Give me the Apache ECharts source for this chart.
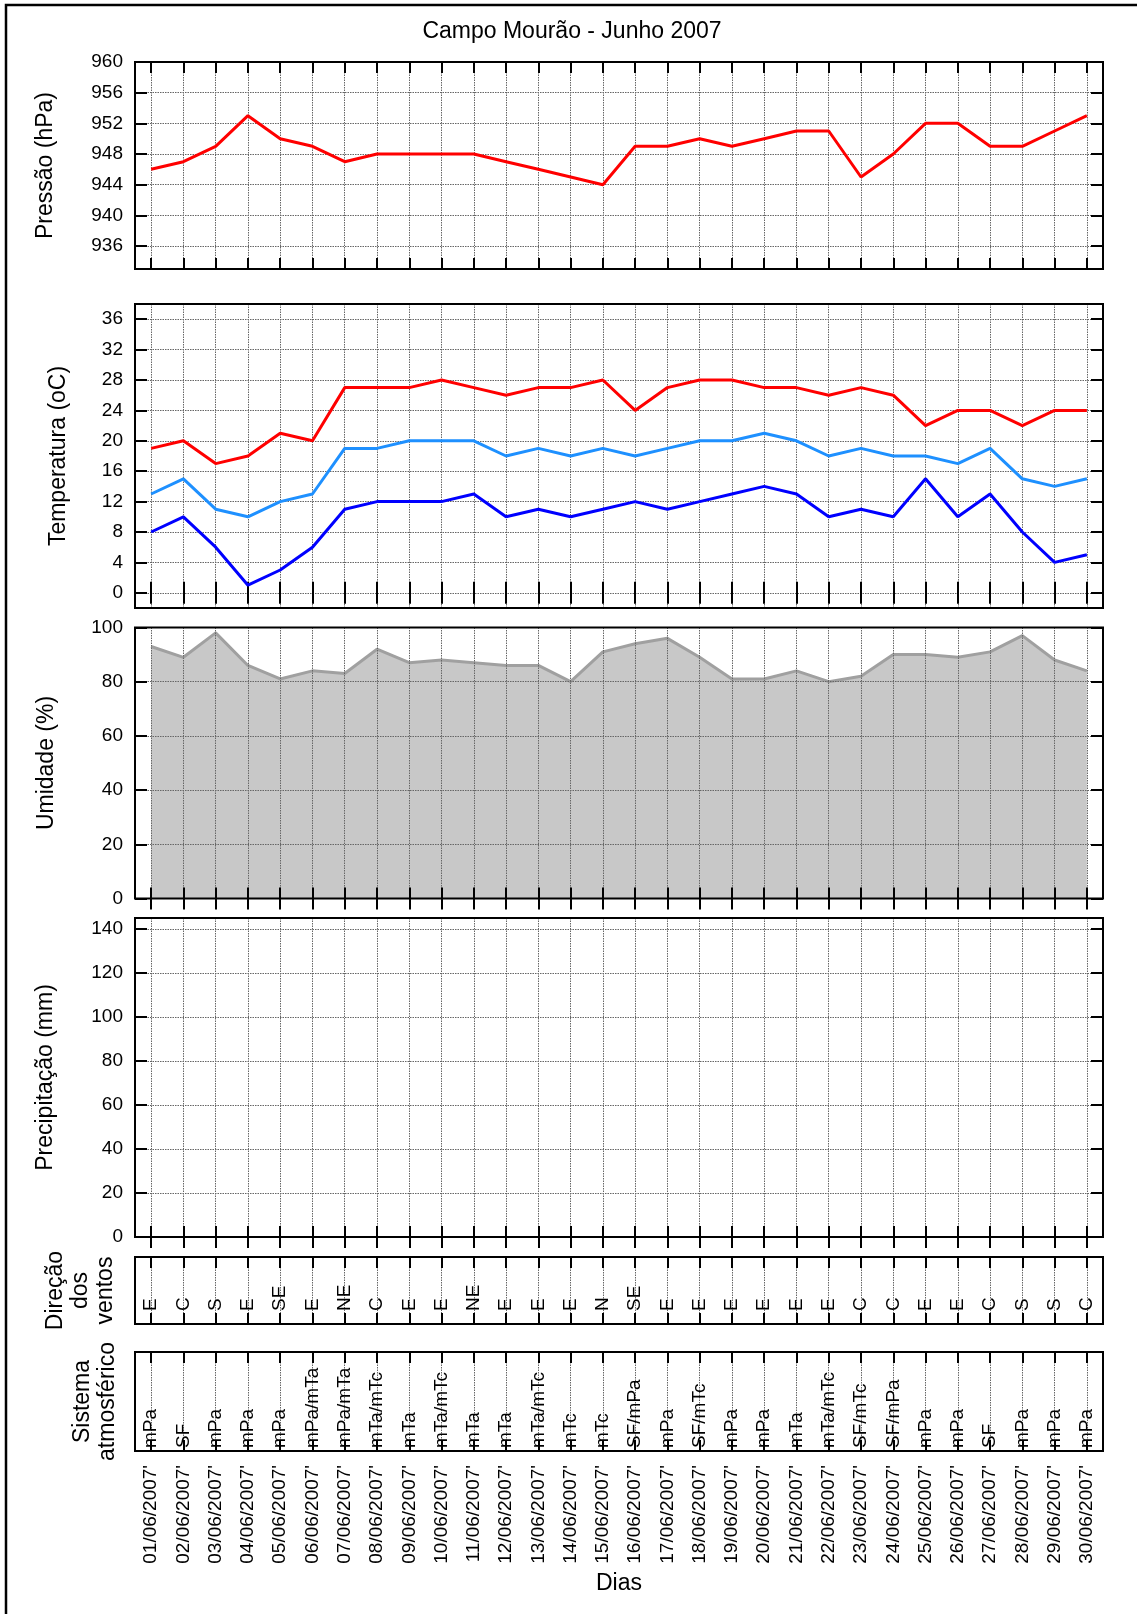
<!DOCTYPE html>
<html>
<head>
<meta charset="utf-8">
<title>Campo Mourão - Junho 2007</title>
<script src="https://cdn.jsdelivr.net/npm/echarts@6/dist/echarts.min.js"></script>
<style>
  html, body { margin: 0; padding: 0; background: #fff; }
  #chart { width: 1137px; height: 1614px; }
</style>
</head>
<body>
<div id="chart"></div>
<script>
// ---- Daily data, June 2007 ----
const days = [
  "01/06/2007'", "02/06/2007'", "03/06/2007'", "04/06/2007'", "05/06/2007'",
  "06/06/2007'", "07/06/2007'", "08/06/2007'", "09/06/2007'", "10/06/2007'",
  "11/06/2007'", "12/06/2007'", "13/06/2007'", "14/06/2007'", "15/06/2007'",
  "16/06/2007'", "17/06/2007'", "18/06/2007'", "19/06/2007'", "20/06/2007'",
  "21/06/2007'", "22/06/2007'", "23/06/2007'", "24/06/2007'", "25/06/2007'",
  "26/06/2007'", "27/06/2007'", "28/06/2007'", "29/06/2007'", "30/06/2007'"
];

const pressure = [946, 947, 949, 953, 950, 949, 947, 948, 948, 948,
                  948, 947, 946, 945, 944, 949, 949, 950, 949, 950,
                  951, 951, 945, 948, 952, 952, 949, 949, 951, 953];

const tempMax  = [19, 20, 17, 18, 21, 20, 27, 27, 27, 28,
                  27, 26, 27, 27, 28, 24, 27, 28, 28, 27,
                  27, 26, 27, 26, 22, 24, 24, 22, 24, 24];
const tempMean = [13, 15, 11, 10, 12, 13, 19, 19, 20, 20,
                  20, 18, 19, 18, 19, 18, 19, 20, 20, 21,
                  20, 18, 19, 18, 18, 17, 19, 15, 14, 15];
const tempMin  = [8, 10, 6, 1, 3, 6, 11, 12, 12, 12,
                  13, 10, 11, 10, 11, 12, 11, 12, 13, 14,
                  13, 10, 11, 10, 15, 10, 13, 8, 4, 5];

const humidity = [93, 89, 98, 86, 81, 84, 83, 92, 87, 88,
                  87, 86, 86, 80, 91, 94, 96, 89, 81, 81,
                  84, 80, 82, 90, 90, 89, 91, 97, 88, 84];

const precipitation = [0, 0, 0, 0, 0, 0, 0, 0, 0, 0,
                       0, 0, 0, 0, 0, 0, 0, 0, 0, 0,
                       0, 0, 0, 0, 0, 0, 0, 0, 0, 0];

const windDir = ['E', 'C', 'S', 'E', 'SE', 'E', 'NE', 'C', 'E', 'E',
                 'NE', 'E', 'E', 'E', 'N', 'SE', 'E', 'E', 'E', 'E',
                 'E', 'E', 'C', 'C', 'E', 'E', 'C', 'S', 'S', 'C'];

const systems = ['mPa', 'SF', 'mPa', 'mPa', 'mPa', 'mPa/mTa', 'mPa/mTa', 'mTa/mTc', 'mTa', 'mTa/mTc',
                 'mTa', 'mTa', 'mTa/mTc', 'mTc', 'mTc', 'SF/mPa', 'mPa', 'SF/mTc', 'mPa', 'mPa',
                 'mTa', 'mTa/mTc', 'SF/mTc', 'SF/mPa', 'mPa', 'mPa', 'SF', 'mPa', 'mPa', 'mPa'];

// ---- Axis ticks ----
const pressureTicks = [936, 940, 944, 948, 952, 956, 960];
const tempTicks     = [0, 4, 8, 12, 16, 20, 24, 28, 32, 36];
const humidityTicks = [0, 20, 40, 60, 80, 100];
const precipTicks   = [0, 20, 40, 60, 80, 100, 120, 140];

// ---- Layout / styling ----
const FONT = "'Liberation Sans', Arial, Helvetica, sans-serif";
const LEFT = 135;
const WIDTH = 968;
const tickStyle = { color: '#000', width: 2 };
const gridLineStyle = { color: '#666666', width: 1, type: [1.5, 1] };

const grids = [];
const xAxes = [];
const yAxes = [];
const series = [];

function catTick() {
  return { show: true, inside: true, length: 11, alignWithLabel: true, interval: 0, lineStyle: tickStyle };
}

// One stacked panel: a bordered grid with inward ticks on all four sides
function addPanel(cfg) {
  const g = grids.length;
  const z = cfg.z || 0;
  grids.push({
    left: LEFT, width: WIDTH, top: cfg.top, height: cfg.height,
    show: true, borderColor: '#000', borderWidth: 2,
    backgroundColor: 'transparent', z: 5
  });

  const xb = xAxes.length;
  xAxes.push({
    type: 'category', gridIndex: g, position: 'bottom', data: days, z: z,
    axisLine: { show: false },
    axisTick: catTick(),
    splitLine: { show: true, alignWithLabel: true, interval: 0, lineStyle: gridLineStyle },
    axisLabel: cfg.bottomLabel || { show: false }
  });
  xAxes.push({
    type: 'category', gridIndex: g, position: 'top', data: days, z: z,
    axisLine: { show: false },
    axisTick: catTick(),
    splitLine: { show: false },
    axisLabel: { show: false }
  });
  if (cfg.innerLabel) {
    xAxes.push({
      type: 'category', gridIndex: g, position: 'bottom', data: days, z: z,
      axisLine: { show: false },
      axisTick: { show: false },
      splitLine: { show: false },
      axisLabel: cfg.innerLabel
    });
  }

  const yl = yAxes.length;
  if (cfg.ticks) {
    yAxes.push({
      type: 'value', gridIndex: g, position: 'left', min: cfg.min, max: cfg.max, z: z,
      axisLine: { show: false },
      axisTick: { show: true, inside: true, length: 12, customValues: cfg.ticks, lineStyle: tickStyle },
      splitLine: { show: true, customValues: cfg.ticks, lineStyle: gridLineStyle },
      axisLabel: {
        show: true, customValues: cfg.ticks, margin: 12,
        fontSize: 19, fontFamily: FONT, color: '#000'
      }
    });
    yAxes.push({
      type: 'value', gridIndex: g, position: 'right', min: cfg.min, max: cfg.max, z: z,
      axisLine: { show: false },
      axisTick: { show: true, inside: true, length: 12, customValues: cfg.ticks, lineStyle: tickStyle },
      splitLine: { show: false },
      axisLabel: { show: false, customValues: cfg.ticks }
    });
  } else {
    yAxes.push({ type: 'value', gridIndex: g, min: 0, max: 1, show: false });
  }
  return { xb: xb, yl: yl };
}

// Pressure
const pP = addPanel({ top: 62, height: 207, min: 933, max: 960, ticks: pressureTicks });
// Temperature
const pT = addPanel({ top: 304, height: 304, min: -2, max: 38, ticks: tempTicks });
// Humidity (grid lines drawn above the filled area)
const pU = addPanel({ top: 627.5, height: 271, min: 0, max: 100, ticks: humidityTicks, z: 3 });
// Precipitation
const pR = addPanel({ top: 918, height: 319, min: 0, max: 145, ticks: precipTicks });
// Wind direction
addPanel({
  top: 1257, height: 67,
  bottomLabel: {
    show: true, inside: true, rotate: 90, margin: 13, interval: 0,
    fontSize: 19, fontFamily: FONT, color: '#000',
    formatter: function (v, i) { return windDir[i]; }
  }
});
// Atmospheric system + dates
addPanel({
  top: 1352, height: 99,
  bottomLabel: {
    show: true, rotate: 90, margin: 14, interval: 0,
    fontSize: 19, fontFamily: FONT, color: '#000'
  },
  innerLabel: {
    show: true, inside: true, rotate: 90, margin: 3, interval: 0,
    fontSize: 19, fontFamily: FONT, color: '#000',
    formatter: function (v, i) { return systems[i]; }
  }
});

function lineSeries(name, panel, data, color, extra) {
  return Object.assign({
    name: name, type: 'line', xAxisIndex: panel.xb, yAxisIndex: panel.yl,
    data: data, symbol: 'none', smooth: false,
    lineStyle: { color: color, width: 3 },
    itemStyle: { color: color }
  }, extra || {});
}

series.push(lineSeries('Pressão', pP, pressure, '#ff0000'));
series.push(lineSeries('Máxima', pT, tempMax, '#ff0000'));
series.push(lineSeries('Média', pT, tempMean, '#1e90ff'));
series.push(lineSeries('Mínima', pT, tempMin, '#0000ff'));
series.push(lineSeries('Umidade', pU, humidity, '#a0a0a0', {
  z: 1,
  areaStyle: { color: '#c8c8c8', opacity: 1 }
}));
series.push({
  name: 'Precipitação', type: 'bar', xAxisIndex: pR.xb, yAxisIndex: pR.yl,
  data: precipitation, barWidth: 20, itemStyle: { color: '#0000ff' }
});

function vTitle(text, x, y) {
  return {
    type: 'text', x: x, y: y, rotation: Math.PI / 2, z: 10,
    style: {
      text: text, fill: '#000', fontSize: 23, fontFamily: FONT,
      align: 'center', verticalAlign: 'middle', lineHeight: 25
    }
  };
}

const option = {
  animation: false,
  backgroundColor: '#fff',
  textStyle: { fontFamily: FONT },
  title: {
    text: 'Campo Mourão - Junho 2007',
    left: 567, top: 27, textAlign: 'center', textVerticalAlign: 'middle',
    textStyle: { fontSize: 23, fontWeight: 'normal', color: '#000', fontFamily: FONT }
  },
  grid: grids,
  xAxis: xAxes,
  yAxis: yAxes,
  series: series,
  graphic: [
    {
      type: 'rect', shape: { x: 6, y: 5, width: 1200, height: 1700 },
      style: { fill: 'none', stroke: '#000', lineWidth: 2.5 }, z: 10
    },
    vTitle('Pressão (hPa)', 46, 165.5),
    vTitle('Temperatura (oC)', 59, 456),
    vTitle('Umidade (%)', 47, 763),
    vTitle('Precipitação (mm)', 46, 1077.5),
    vTitle('Direção\ndos\nventos', 81, 1290.5),
    vTitle('Sistema\natmosférico', 95, 1401.5),
    {
      type: 'text', x: 619, y: 1584, z: 10,
      style: {
        text: 'Dias', fill: '#000', fontSize: 23, fontFamily: FONT,
        align: 'center', verticalAlign: 'middle'
      }
    }
  ]
};

const chart = echarts.init(document.getElementById('chart'), null, { renderer: 'canvas' });
chart.setOption(option);
</script>
</body>
</html>
